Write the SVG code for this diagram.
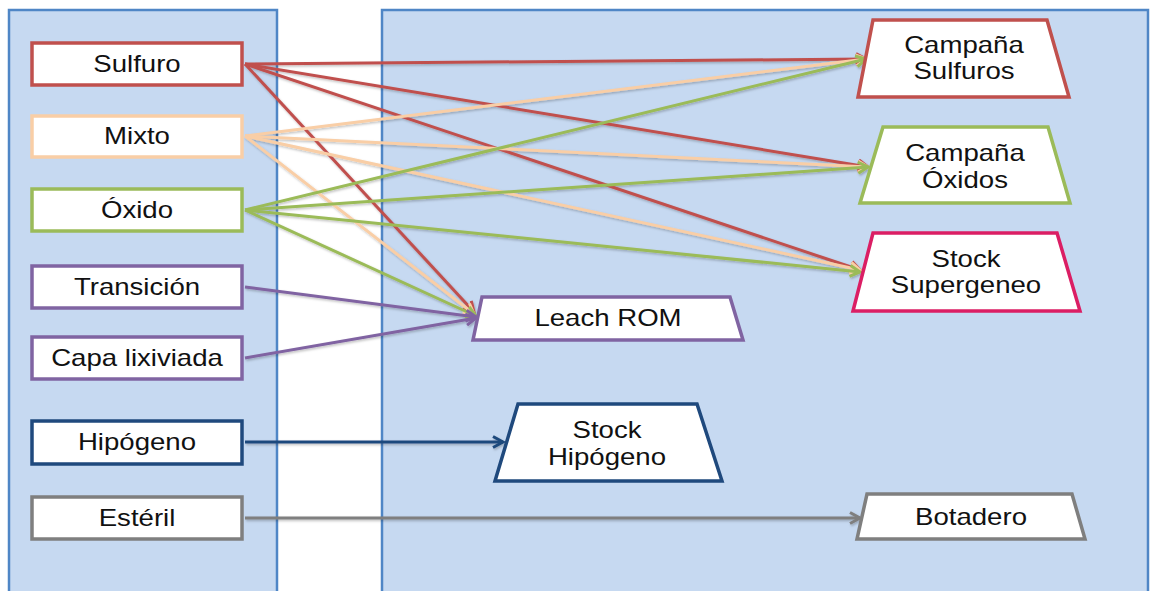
<svg xmlns="http://www.w3.org/2000/svg" width="1156" height="591" viewBox="0 0 1156 591">
<style>
.panel{fill:#c6d9f1;stroke:#4f86c6;stroke-width:2.5}
.box{fill:#ffffff;stroke-width:3.5;stroke-linejoin:miter}
.lbl{font-family:"Liberation Sans",Arial,sans-serif;font-size:23px;fill:#111;text-anchor:middle}
.c{fill:none;stroke-width:3}
.red{stroke:#c0504d}.peach{stroke:#f9cea6}.green{stroke:#9bbb59}.purple{stroke:#8064a2}.navy{stroke:#1f497d}.grey{stroke:#7f7f7f}.mag{stroke:#db1e64}
</style>
<defs>
<filter id="sh" x="-5%" y="-5%" width="110%" height="110%"><feDropShadow dx="1" dy="1.5" stdDeviation="0.8" flood-color="#000" flood-opacity="0.25"/></filter>
<marker id="mRed" markerUnits="userSpaceOnUse" markerWidth="16" markerHeight="16" refX="12" refY="7" orient="auto"><path d="M2,1.5 L12,7 L2,12.5" fill="none" stroke="#c0504d" stroke-width="3"/></marker>
<marker id="mPeach" markerUnits="userSpaceOnUse" markerWidth="16" markerHeight="16" refX="12" refY="7" orient="auto"><path d="M2,1.5 L12,7 L2,12.5" fill="none" stroke="#f9cea6" stroke-width="3"/></marker>
<marker id="mGreen" markerUnits="userSpaceOnUse" markerWidth="16" markerHeight="16" refX="12" refY="7" orient="auto"><path d="M2,1.5 L12,7 L2,12.5" fill="none" stroke="#9bbb59" stroke-width="3"/></marker>
<marker id="mPurple" markerUnits="userSpaceOnUse" markerWidth="16" markerHeight="16" refX="12" refY="7" orient="auto"><path d="M2,1.5 L12,7 L2,12.5" fill="none" stroke="#8064a2" stroke-width="3"/></marker>
<marker id="mNavy" markerUnits="userSpaceOnUse" markerWidth="16" markerHeight="16" refX="12" refY="7" orient="auto"><path d="M2,1.5 L12,7 L2,12.5" fill="none" stroke="#1f497d" stroke-width="3"/></marker>
<marker id="mGrey" markerUnits="userSpaceOnUse" markerWidth="16" markerHeight="16" refX="12" refY="7" orient="auto"><path d="M2,1.5 L12,7 L2,12.5" fill="none" stroke="#7f7f7f" stroke-width="3"/></marker>
</defs>
<rect width="1156" height="591" fill="#ffffff"/>
<g id="panels">
<rect class="panel" x="9" y="10" width="268" height="600"/>
<rect class="panel" x="382" y="10" width="766" height="600"/>
</g>
<g id="connectors" filter="url(#sh)">
<line class="c red" x1="245" y1="64" x2="866" y2="59" marker-end="url(#mRed)"/>
<line class="c red" x1="245" y1="64" x2="868" y2="167" marker-end="url(#mRed)"/>
<line class="c red" x1="245" y1="64" x2="860" y2="270" marker-end="url(#mRed)"/>
<line class="c red" x1="245" y1="64" x2="474" y2="312" marker-end="url(#mRed)"/>
<line class="c peach" x1="245" y1="136" x2="866" y2="59" marker-end="url(#mPeach)"/>
<line class="c peach" x1="245" y1="136" x2="868" y2="167" marker-end="url(#mPeach)"/>
<line class="c peach" x1="245" y1="136" x2="860" y2="270" marker-end="url(#mPeach)"/>
<line class="c peach" x1="245" y1="136" x2="474" y2="314" marker-end="url(#mPeach)"/>
<line class="c green" x1="245" y1="210" x2="866" y2="59" marker-end="url(#mGreen)"/>
<line class="c green" x1="245" y1="210" x2="868" y2="167" marker-end="url(#mGreen)"/>
<line class="c green" x1="245" y1="210" x2="860" y2="272" marker-end="url(#mGreen)"/>
<line class="c green" x1="245" y1="210" x2="476" y2="316" marker-end="url(#mGreen)"/>
<line class="c purple" x1="245" y1="287" x2="476" y2="317" marker-end="url(#mPurple)"/>
<line class="c purple" x1="245" y1="358" x2="476" y2="318" marker-end="url(#mPurple)"/>
<line class="c navy" x1="245" y1="442" x2="503" y2="442" marker-end="url(#mNavy)"/>
<line class="c grey" x1="245" y1="518" x2="860" y2="518" marker-end="url(#mGrey)"/>
</g>
<g id="src-sulfuro"><rect class="box red" x="32" y="43" width="210" height="42"/><text class="lbl" transform="translate(137,72) scale(1.2,1)">Sulfuro</text></g>
<g id="src-mixto"><rect class="box peach" x="32" y="116" width="210" height="41"/><text class="lbl" transform="translate(137,144) scale(1.2,1)">Mixto</text></g>
<g id="src-oxido"><rect class="box green" x="32" y="189" width="210" height="42"/><text class="lbl" transform="translate(137,218) scale(1.2,1)">Óxido</text></g>
<g id="src-transicion"><rect class="box purple" x="32" y="266" width="210" height="42"/><text class="lbl" transform="translate(137,295) scale(1.2,1)">Transición</text></g>
<g id="src-capa"><rect class="box purple" x="32" y="337" width="210" height="42"/><text class="lbl" transform="translate(137,366) scale(1.2,1)">Capa lixiviada</text></g>
<g id="src-hipogeno"><rect class="box navy" x="32" y="421" width="210" height="43"/><text class="lbl" transform="translate(137,450) scale(1.2,1)">Hipógeno</text></g>
<g id="src-esteril"><rect class="box grey" x="32" y="497" width="210" height="42"/><text class="lbl" transform="translate(137,526) scale(1.2,1)">Estéril</text></g>
<g id="dst-campana-sulfuros"><polygon class="box red" points="873,20 1047,20 1069,97 858,97"/><text class="lbl" transform="translate(964,53) scale(1.2,1)">Campaña</text><text class="lbl" transform="translate(964,79) scale(1.2,1)">Sulfuros</text></g>
<g id="dst-campana-oxidos"><polygon class="box green" points="883,127 1048,127 1070,203 860,203"/><text class="lbl" transform="translate(965,161) scale(1.2,1)">Campaña</text><text class="lbl" transform="translate(965,188) scale(1.2,1)">Óxidos</text></g>
<g id="dst-stock-supergeneo"><polygon class="box mag" points="873,233 1057,233 1080,311 853,311"/><text class="lbl" transform="translate(966,267) scale(1.2,1)">Stock</text><text class="lbl" transform="translate(966,293) scale(1.2,1)">Supergeneo</text></g>
<g id="dst-leach-rom"><polygon class="box purple" points="482,297 730,297 743,340 473,340"/><text class="lbl" transform="translate(608,326) scale(1.2,1)">Leach ROM</text></g>
<g id="dst-stock-hipogeno"><polygon class="box navy" points="518,404 697,404 722,481 495,481"/><text class="lbl" transform="translate(607,438) scale(1.2,1)">Stock</text><text class="lbl" transform="translate(607,465) scale(1.2,1)">Hipógeno</text></g>
<g id="dst-botadero"><polygon class="box grey" points="867,494 1072,494 1085,539 857,539"/><text class="lbl" transform="translate(971,525) scale(1.2,1)">Botadero</text></g>
</svg>
